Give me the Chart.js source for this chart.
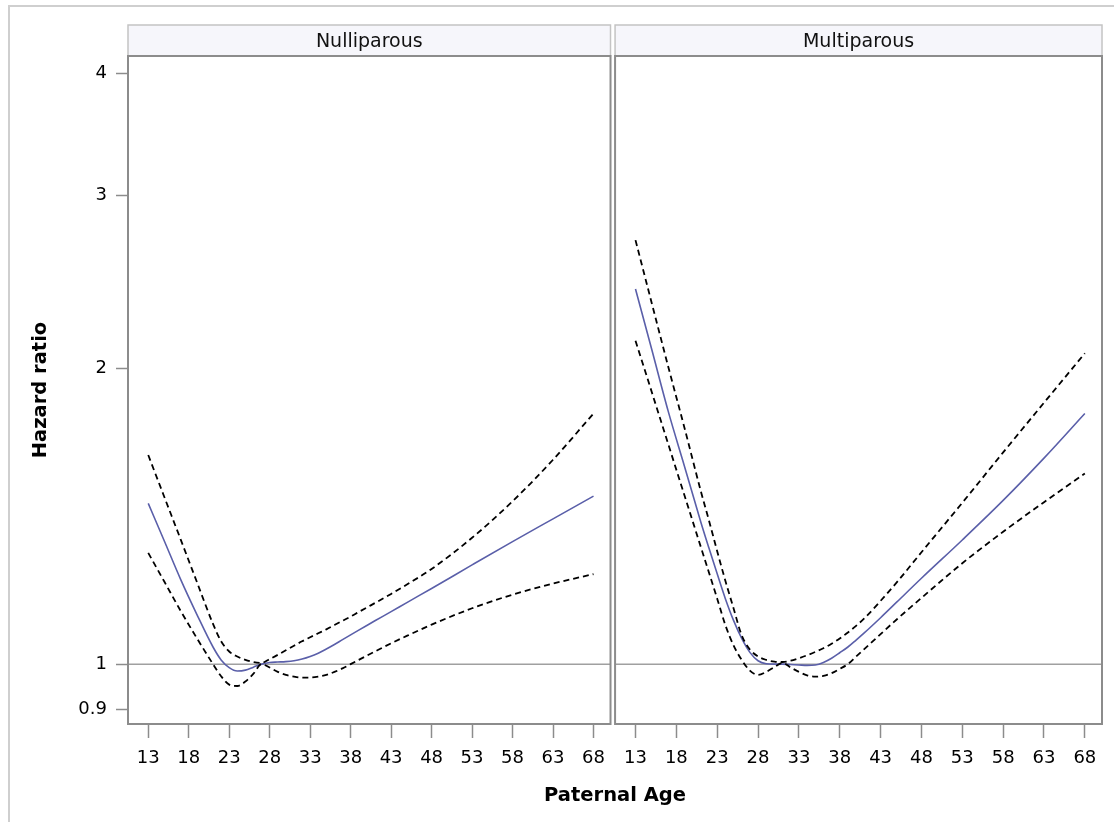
<!DOCTYPE html>
<html>
<head>
<meta charset="utf-8">
<script src="https://cdn.jsdelivr.net/npm/chart.js@4.4.1/dist/chart.umd.min.js"></script>
<style>
  html, body { margin:0; padding:0; background:#fff; overflow:hidden; }
  #wrap { position:relative; width:1114px; height:822px; overflow:hidden; background:#fff; }
  #frame { position:absolute; left:8px; top:5px; width:1200px; height:900px; border-left:2px solid #cfcfcf; border-top:2px solid #cfcfcf; }
  canvas { position:absolute; top:0; }
  #cA { left:0; }
  #cB { left:614px; }
  #xtitle { position:absolute; left:415px; width:400px; top:785px; text-align:center;
            font:bold 19.5px "DejaVu Sans"; line-height:20px; color:#000; }
</style>
</head>
<body>
<div id="wrap">
  <div id="frame"></div>
  <canvas id="cA" width="615" height="822"></canvas>
  <canvas id="cB" width="500" height="822"></canvas>
  <div id="xtitle">Paternal Age</div>
</div>
<script>
// ---- data ----
const panelTitles = ["Nulliparous", "Multiparous"];
const ages = [13,15,17,19,21,22,23,24,25,26,27,28,29,30,31,32,33,34,35,36,37,38,39,40,41,43,45,48,53,58,63,68];

const nulliHR    = [1.458,1.334,1.220,1.124,1.041,1.010,0.992,0.984,0.986,0.993,1.000,1.004,1.005,1.006,1.008,1.012,1.018,1.026,1.036,1.047,1.059,1.071,1.083,1.095,1.107,1.131,1.156,1.194,1.262,1.333,1.406,1.483];
const nulliUpper = [1.633,1.479,1.340,1.213,1.099,1.055,1.030,1.018,1.010,1.005,1.003,1.012,1.022,1.033,1.044,1.055,1.065,1.075,1.085,1.096,1.107,1.118,1.130,1.142,1.154,1.179,1.206,1.250,1.345,1.465,1.615,1.800];
const nulliLower = [1.298,1.213,1.133,1.063,1.000,0.972,0.953,0.950,0.960,0.978,1.000,0.992,0.982,0.975,0.971,0.969,0.969,0.971,0.975,0.982,0.990,1.000,1.010,1.020,1.030,1.050,1.069,1.097,1.140,1.177,1.208,1.235];

const multiHR    = [2.410,2.090,1.810,1.590,1.395,1.312,1.236,1.166,1.108,1.062,1.028,1.008,1.001,1.000,1.000,0.999,0.998,0.997,0.998,1.004,1.014,1.027,1.041,1.058,1.076,1.115,1.157,1.223,1.338,1.468,1.621,1.800];
const multiUpper = [2.703,2.330,2.010,1.740,1.500,1.400,1.303,1.216,1.140,1.070,1.035,1.018,1.010,1.006,1.005,1.008,1.014,1.021,1.029,1.038,1.049,1.062,1.077,1.094,1.113,1.160,1.212,1.300,1.460,1.643,1.846,2.073];
const multiLower = [2.135,1.892,1.676,1.485,1.316,1.239,1.166,1.096,1.045,1.010,0.985,0.975,0.982,0.993,1.003,0.992,0.982,0.974,0.971,0.973,0.979,0.989,1.000,1.018,1.036,1.073,1.111,1.168,1.267,1.364,1.462,1.564];

const xTicks = [13,18,23,28,33,38,43,48,53,58,63,68];
const yTicks = [0.9,1,2,3,4];
const refValue = 1;
const xMin = 10.5, xMax = 70.1;
const yMin = 0.869, yMax = 4.163;

// ---- styling ----
const FONT = '"DejaVu Sans"';
const BLUE = '#5a5fa9';
const AXIS = '#8c8c8c';

const panelPlugin = {
  id: 'panel',
  beforeDatasetsDraw(chart) {
    const {ctx, chartArea: a, scales} = chart;
    const y = scales.y.getPixelForValue(refValue);
    ctx.save();
    ctx.strokeStyle = '#a0a0a0';
    ctx.lineWidth = 1.5;
    ctx.beginPath();
    ctx.moveTo(a.left, y);
    ctx.lineTo(a.right, y);
    ctx.stroke();
    ctx.restore();
  },
  afterDraw(chart, args, opts) {
    const {ctx, chartArea: a} = chart;
    ctx.save();
    const top = 25;
    ctx.fillStyle = '#f6f6fb';
    ctx.fillRect(a.left, top, a.right - a.left, a.top - top);
    ctx.strokeStyle = '#c4c4c4';
    ctx.lineWidth = 1.5;
    ctx.strokeRect(a.left, top, a.right - a.left, a.top - top);
    ctx.fillStyle = '#111';
    ctx.font = '19px ' + FONT;
    ctx.textAlign = 'center';
    ctx.textBaseline = 'alphabetic';
    ctx.fillText(opts.title, (a.left + a.right) / 2, 47);
    ctx.strokeStyle = AXIS;
    ctx.lineWidth = 2;
    ctx.strokeRect(a.left, a.top, a.right - a.left, a.bottom - a.top);
    ctx.restore();
  }
};

function pts(vals) { return ages.map((a, i) => ({x: a, y: vals[i]})); }

function datasets(hr, up, lo) {
  const dashed = {borderColor:'#000', borderWidth:1.8, borderDash:[6,4], pointRadius:0, fill:false, cubicInterpolationMode:'monotone'};
  return [
    Object.assign({label:'Upper', data: pts(up)}, dashed),
    Object.assign({label:'Lower', data: pts(lo)}, dashed),
    {label:'Hazard ratio', data: pts(hr), borderColor: BLUE, borderWidth:1.6, pointRadius:0, fill:false, cubicInterpolationMode:'monotone'}
  ];
}

function xScale() {
  return {
    type:'linear', min:xMin, max:xMax,
    afterBuildTicks: s => { s.ticks = xTicks.map(v => ({value: v})); },
    afterFit: s => { s.height = 98; },
    grid: {drawOnChartArea:false, drawTicks:true, tickLength:14, tickColor:AXIS, tickWidth:1.5},
    border: {display:false},
    ticks: {font:{family:FONT, size:18}, color:'#000', padding:10, maxRotation:0, autoSkip:false, callback: v => String(v)}
  };
}

function makeChart(id, title, hr, up, lo, showY, pad) {
  const y = {
    type:'logarithmic', min:yMin, max:yMax, display: showY,
    afterBuildTicks: s => { s.ticks = yTicks.map(v => ({value: v})); },
    grid: {drawOnChartArea:false, drawTicks:true, tickLength:12, tickColor:AXIS, tickWidth:1.5},
    border: {display:false},
    ticks: {font:{family:FONT, size:18}, color:'#000', padding:9, callback: v => String(v)},
    title: {display:true, text:'Hazard ratio', color:'#000', font:{family:FONT, size:19.5, weight:'bold'}, padding:{top:29, bottom:0}}
  };
  if (showY) y.afterFit = s => { s.width = 128; };
  return new Chart(document.getElementById(id), {
    type:'line',
    data: {datasets: datasets(hr, up, lo)},
    options: {
      responsive:false, animation:false, devicePixelRatio:1,
      layout: {padding: pad},
      plugins: {legend:{display:false}, tooltip:{enabled:false}, title:{display:false}, panel:{title}},
      scales: {x: xScale(), y}
    },
    plugins: [panelPlugin]
  });
}

makeChart('cA', panelTitles[0], nulliHR, nulliUpper, nulliLower, true, {top:56, right:1, bottom:0, left:0});
makeChart('cB', panelTitles[1], multiHR, multiUpper, multiLower, false, {top:56, right:12, bottom:0, left:1});
</script>
</body>
</html>
